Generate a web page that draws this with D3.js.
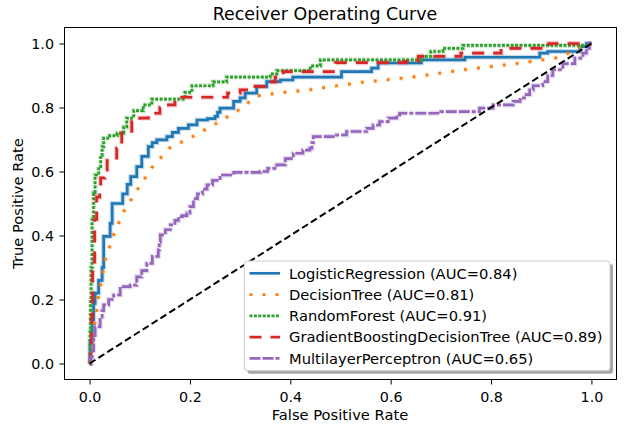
<!DOCTYPE html>
<html><head><meta charset="utf-8">
<script src="https://cdn.jsdelivr.net/npm/d3@7"></script>
<style>body{margin:0;background:#fff}svg{display:block}</style>
</head><body><svg id="c" width="626" height="425"></svg>
<script>
// ---- data ----
const tickValues = [0.0, 0.2, 0.4, 0.6, 0.8, 1.0];
const seriesNames = ["LogisticRegression", "DecisionTree", "RandomForest", "GradientBoostingDecisionTree", "MultilayerPerceptron"];
const aucValues = [0.84, 0.81, 0.91, 0.89, 0.65];

const lrFpr = [0,0.001,0.005,0.008,0.011,0.018,0.025,0.028,0.041,0.045,0.066,0.075,0.082,0.094,0.104,0.117,0.125,0.134,0.154,0.165,0.177,0.197,0.214,0.235,0.25,0.255,0.26,0.287,0.3,0.31,0.333,0.353,0.38,0.405,0.502,0.562,0.575,0.661,0.748,0.897,0.913,0.977,0.99,1];
const lrTpr = [0,0.07,0.136,0.188,0.22,0.26,0.30,0.397,0.438,0.50,0.53,0.56,0.584,0.615,0.647,0.678,0.69,0.699,0.709,0.722,0.735,0.746,0.761,0.765,0.772,0.785,0.798,0.819,0.83,0.845,0.866,0.881,0.886,0.895,0.912,0.923,0.939,0.949,0.957,0.97,0.975,0.99,1,1];

const dtFpr = [0,0.001,0.017,0.031,0.048,0.068,0.096,0.124,0.159,0.205,0.250,0.295,0.333,0.385,0.436,0.540,0.643,0.746,0.849,0.927,0.95,0.986,1];
const dtTpr = [0,0.006,0.204,0.324,0.402,0.475,0.545,0.612,0.673,0.709,0.748,0.790,0.836,0.847,0.855,0.878,0.895,0.918,0.937,0.954,0.967,0.996,1];

const rfFpr = [0,0.001,0.002,0.003,0.005,0.008,0.011,0.018,0.022,0.025,0.028,0.04,0.055,0.068,0.074,0.088,0.107,0.124,0.19,0.204,0.246,0.273,0.36,0.373,0.44,0.46,0.661,0.68,0.704,0.744,0.992,1];
const rfTpr = [0,0.1,0.2,0.3,0.45,0.533,0.589,0.615,0.65,0.678,0.704,0.712,0.72,0.739,0.767,0.79,0.808,0.826,0.847,0.868,0.88,0.895,0.905,0.915,0.93,0.949,0.96,0.975,0.985,0.994,1,1];

const gbFpr = [0,0.002,0.004,0.006,0.01,0.014,0.02,0.022,0.03,0.035,0.054,0.064,0.084,0.1,0.117,0.14,0.153,0.17,0.175,0.275,0.3,0.33,0.35,0.37,0.386,0.49,0.63,0.655,0.74,0.82,0.915,1];
const gbTpr = [0,0.05,0.15,0.3,0.45,0.52,0.54,0.58,0.605,0.634,0.673,0.72,0.756,0.767,0.782,0.80,0.808,0.824,0.832,0.845,0.855,0.866,0.88,0.895,0.912,0.94,0.944,0.96,0.97,0.985,1,1];

const mlpFpr = [0,0.002,0.005,0.008,0.011,0.021,0.025,0.028,0.038,0.048,0.061,0.081,0.094,0.104,0.114,0.125,0.137,0.139,0.141,0.151,0.161,0.17,0.177,0.185,0.194,0.2,0.207,0.215,0.225,0.234,0.245,0.26,0.287,0.34,0.355,0.373,0.39,0.406,0.425,0.439,0.443,0.446,0.492,0.512,0.552,0.565,0.578,0.595,0.612,0.618,0.70,0.777,0.804,0.844,0.858,0.87,0.877,0.884,0.903,0.913,0.923,0.943,0.967,0.983,0.99,0.996,1];
const mlpTpr = [0,0.02,0.04,0.08,0.115,0.146,0.165,0.183,0.2,0.214,0.24,0.245,0.271,0.29,0.313,0.335,0.355,0.38,0.402,0.418,0.433,0.447,0.459,0.462,0.47,0.49,0.515,0.53,0.545,0.558,0.572,0.589,0.597,0.6,0.61,0.621,0.64,0.657,0.667,0.673,0.69,0.709,0.714,0.725,0.735,0.745,0.756,0.767,0.777,0.782,0.787,0.798,0.808,0.819,0.83,0.84,0.855,0.868,0.881,0.9,0.918,0.937,0.954,0.97,0.985,1,1];

const chanceFpr = [0, 1];
const chanceTpr = [0, 1];

// ---- layout ----
const svg = d3.select("#c");
const FONT = "DejaVu Sans, Liberation Sans, sans-serif";
svg.append("rect").attr("width",626).attr("height",425).attr("fill","#fff");

const x = d3.scaleLinear().domain([-0.05, 1.05]).range([64.5, 616.5]);
const y = d3.scaleLinear().domain([-0.05, 1.05]).range([379.5, 27.5]);

const zip = (a, b) => a.map((v, i) => [v, b[i]]);

const styles = [
  {color:"#1f77b4", dash:null,             curve:d3.curveStepAfter},
  {color:"#ff7f0e", dash:"3,10",           curve:d3.curveLinear},
  {color:"#2ca02c", dash:"3,1.4",          curve:d3.curveStepAfter},
  {color:"#d62728", dash:"12,9",           curve:d3.curveStepAfter},
  {color:"#9467bd", dash:"11,2,11,2,4,2",  curve:d3.curveStepAfter}
];
const seriesData = [zip(lrFpr,lrTpr), zip(dtFpr,dtTpr), zip(rfFpr,rfTpr), zip(gbFpr,gbTpr), zip(mlpFpr,mlpTpr)];

const plot = svg.append("g");
seriesData.forEach((d, i) => {
  const st = styles[i];
  const line = d3.line().x(p => x(p[0])).y(p => y(p[1])).curve(st.curve);
  plot.append("path").attr("d", line(d)).attr("fill","none")
    .attr("stroke", st.color).attr("stroke-width", 5).attr("stroke-opacity", 0.25)
    .attr("stroke-dasharray", st.dash);
  plot.append("path").attr("d", line(d)).attr("fill","none")
    .attr("stroke", st.color).attr("stroke-width", 2.7)
    .attr("stroke-dasharray", st.dash);
});
const diag = d3.line().x(p => x(p[0])).y(p => y(p[1]));
plot.append("path").attr("d", diag(zip(chanceFpr, chanceTpr))).attr("fill","none")
  .attr("stroke","#000").attr("stroke-width",2).attr("stroke-dasharray","7,3.5");

// ---- axes ----
const fmt = d3.format(".1f");
const xAxis = svg.append("g").attr("transform","translate(0,379.5)")
  .call(d3.axisBottom(x).tickValues(tickValues).tickFormat(fmt).tickSize(5).tickPadding(7));
const yAxis = svg.append("g").attr("transform","translate(64.5,0)")
  .call(d3.axisLeft(y).tickValues(tickValues).tickFormat(fmt).tickSize(5).tickPadding(5.5));
[xAxis, yAxis].forEach(a => {
  a.select(".domain").remove();
  a.selectAll("line").attr("stroke","#000").attr("stroke-width",1);
  a.selectAll("text").attr("font-family",FONT).attr("font-size",14.3).attr("fill","#000");
});
svg.append("rect").attr("x",64.5).attr("y",27.5).attr("width",552).attr("height",352)
  .attr("fill","none").attr("stroke","#000").attr("stroke-width",1);

// ---- legend ----
const lg = svg.append("g");
lg.append("rect").attr("x",247.3).attr("y",264).attr("width",365.7).attr("height",109.7).attr("rx",3)
  .attr("fill","#4d4d4d").attr("fill-opacity",0.5);
lg.append("rect").attr("x",244.3).attr("y",261).attr("width",365.7).attr("height",109.7).attr("rx",3)
  .attr("fill","#fff").attr("stroke","#cccccc").attr("stroke-width",1);
seriesNames.forEach((n, i) => {
  const cy = 273.3 + i * 21.25;
  const st = styles[i];
  lg.append("line").attr("x1",249.5).attr("x2",280).attr("y1",cy).attr("y2",cy)
    .attr("stroke",st.color).attr("stroke-width",2.7).attr("stroke-dasharray",st.dash);
  lg.append("text").attr("x",289).attr("y",cy).attr("dy","0.36em")
    .attr("font-family",FONT).attr("font-size",14.7).attr("fill","#000")
    .text(`${n} (AUC=${aucValues[i].toFixed(2)})`);
});

// ---- titles ----
svg.append("text").attr("x",325).attr("y",19.5).attr("text-anchor","middle")
  .attr("font-family",FONT).attr("font-size",17.4).attr("fill","#000").text("Receiver Operating Curve");
svg.append("text").attr("x",340).attr("y",420).attr("text-anchor","middle")
  .attr("font-family",FONT).attr("font-size",14.7).attr("fill","#000").text("False Positive Rate");
svg.append("text").attr("transform","translate(23.3,203.5) rotate(-90)").attr("text-anchor","middle")
  .attr("font-family",FONT).attr("font-size",14.7).attr("fill","#000").text("True Positive Rate");
</script></body></html>
